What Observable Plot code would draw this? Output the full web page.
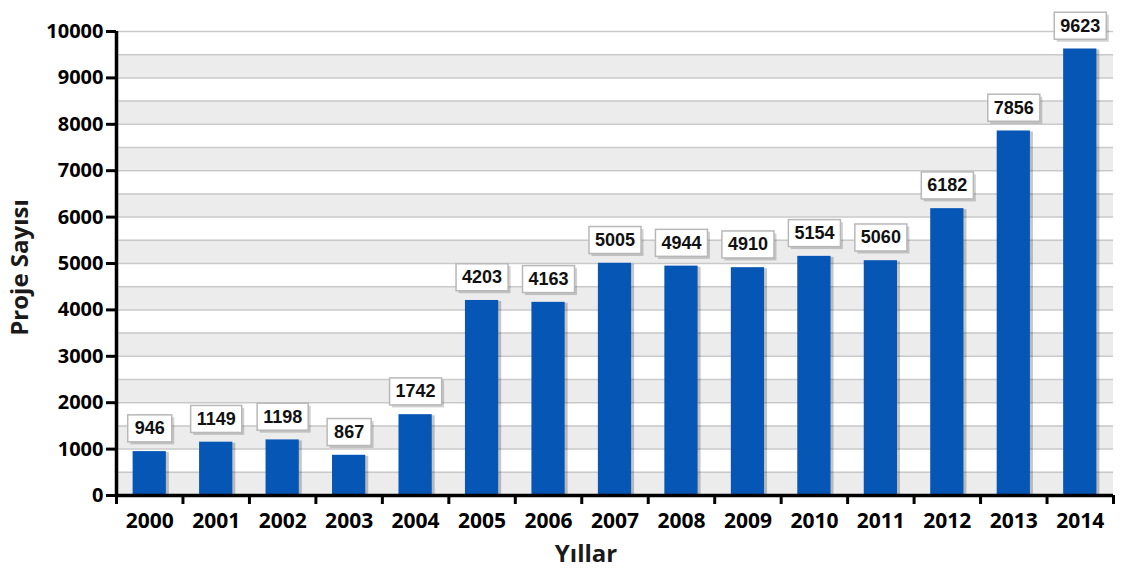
<!DOCTYPE html>
<html><head><meta charset="utf-8">
<script src="https://cdn.jsdelivr.net/npm/d3@7"></script>
<script src="https://cdn.jsdelivr.net/npm/@observablehq/plot@0.6"></script>
<style>
html,body{margin:0;padding:0;background:#fff;}
svg{display:block;}
</style></head>
<body>
<div id="chart"></div>
<script>
const years = [2000,2001,2002,2003,2004,2005,2006,2007,2008,2009,2010,2011,2012,2013,2014];
const values = [946,1149,1198,867,1742,4203,4163,5005,4944,4910,5154,5060,6182,7856,9623];
const yTicks = [0,1000,2000,3000,4000,5000,6000,7000,8000,9000,10000];
const yLabel = "Proje Sayısı";
const xLabel = "Yıllar";

const data = years.map((y,i)=>({year:y, value:values[i]}));
const half = 0.25;
const bands = yTicks.slice(0,-1).map(t=>({y1:t, y2:t+500}));
const grid = d3.range(500, 10001, 500);
const bounds = [years[0]-0.5, ...years.map(y=>y+0.5)];
const axisFont = "'Open Sans', 'DejaVu Sans', sans-serif";

const chart = Plot.plot({
  width: 1130, height: 585,
  marginLeft: 116, marginRight: 17, marginTop: 31, marginBottom: 90,
  style: {fontFamily: axisFont, background: "#fff", overflow: "visible"},
  x: {domain: [years[0]-0.5, years[years.length-1]+0.5], axis: null},
  y: {domain: [0, 10000], axis: null},
  marks: [
    Plot.rectY(bands, {x1: years[0]-0.5, x2: years[years.length-1]+0.5, y1: "y1", y2: "y2", fill: "#ececec"}),
    Plot.ruleY(grid, {stroke: "#c9c9c9", strokeWidth: 1.5}),
    Plot.rectY(data, {x1: d=>d.year-half, x2: d=>d.year+half, y: "value", fill: "#000", fillOpacity: 0.22, dx: 3, dy: 1}),
    Plot.rectY(data, {x1: d=>d.year-half, x2: d=>d.year+half, y: "value", fill: "#0656b6"}),
    Plot.ruleY([0], {stroke: "#000", strokeWidth: 3.5}),
    Plot.ruleX([years[0]-0.5], {y1: 0, y2: 10000, stroke: "#000", strokeWidth: 3.5}),
    Plot.axisY({ticks: yTicks, tickSize: 10, tickPadding: 3, strokeWidth: 3, fontSize: 20, fontWeight: "bold", label: null, tickFormat: d=>String(d)}),
    Plot.axisX({ticks: bounds, tickSize: 9, strokeWidth: 3, tickFormat: () => "", label: null}),
    Plot.axisX({ticks: years, tickSize: 0, tickPadding: 18, fontSize: 21, fontWeight: "bold", tickFormat: d=>String(d), label: null}),
    Plot.text(data, {x: "year", y: "value", text: d=>String(d.value), dy: -23, fontSize: 18, fontWeight: "bold", fontFamily: "Arial, 'Liberation Sans', sans-serif", fill: "#111", className: "vlabel"}),
    Plot.text([xLabel], {frameAnchor: "bottom", dx: -29, dy: 66, fontSize: 24, fontWeight: "bold", fill: "#1a1a1a"}),
    Plot.text([yLabel], {frameAnchor: "left", textAnchor: "middle", dx: -96, dy: 4, rotate: -90, fontSize: 24, fontWeight: "bold", fill: "#1a1a1a"})
  ]
});
document.getElementById("chart").appendChild(chart);

// label boxes behind value labels
const g = chart.querySelector("g.vlabel");
if (g) {
  const NS = "http://www.w3.org/2000/svg";
  const boxes = document.createElementNS(NS, "g");
  g.insertBefore(boxes, g.firstChild);
  g.querySelectorAll("text").forEach(t => {
    const b = t.getBBox();
    const tr = t.getAttribute("transform");
    const w = Math.max(44, b.width + 12), h = 27;
    const cx = b.x + b.width/2, cy = b.y + b.height/2;
    const sh = document.createElementNS(NS, "rect");
    const r = document.createElementNS(NS, "rect");
    for (const [el, off] of [[sh, 2.5], [r, 0]]) {
      el.setAttribute("x", cx - w/2 + off);
      el.setAttribute("y", cy - h/2 + off);
      el.setAttribute("width", w);
      el.setAttribute("height", h);
      if (tr) el.setAttribute("transform", tr);
      boxes.appendChild(el);
    }
    sh.setAttribute("fill", "#000"); sh.setAttribute("fill-opacity", 0.18);
    r.setAttribute("fill", "#fff"); r.setAttribute("stroke", "#b8b8b8"); r.setAttribute("stroke-width", 1.5);
  });
}
</script>
</body></html>
